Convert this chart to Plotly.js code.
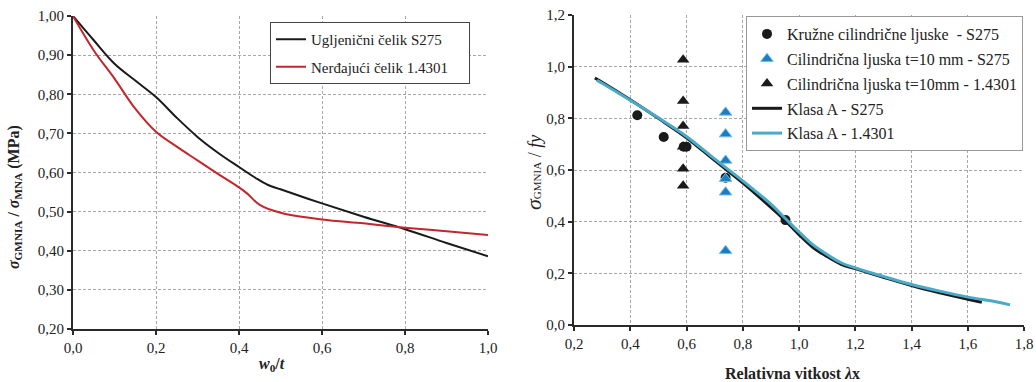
<!DOCTYPE html>
<html><head><meta charset="utf-8">
<script src="https://cdn.plot.ly/plotly-3.0.1.min.js"></script>
<style>html,body{margin:0;padding:0;background:#fff;}#chart{width:1036px;height:382px;}</style>
</head><body><div id="chart"></div>
<script>
// Left chart: sigma_GMNIA / sigma_MNA vs w0/t
const w0t = [0.0, 0.05, 0.1, 0.15, 0.2, 0.25, 0.3, 0.35, 0.4, 0.44, 0.47, 0.5, 0.6, 0.7, 0.8, 0.9, 1.0];
const carbonS275 = [1.0, 0.938, 0.878, 0.835, 0.793, 0.74, 0.691, 0.65, 0.614, 0.586, 0.568, 0.557, 0.521, 0.487, 0.455, 0.42, 0.386];
const w0tRed = [0.0, 0.05, 0.1, 0.15, 0.2, 0.25, 0.3, 0.35, 0.4, 0.42, 0.45, 0.5, 0.6, 0.7, 0.8, 0.9, 1.0];
const stainless14301 = [1.0, 0.912, 0.84, 0.763, 0.704, 0.666, 0.631, 0.596, 0.562, 0.546, 0.517, 0.497, 0.48, 0.47, 0.459, 0.45, 0.44];

// Right chart: sigma_GMNIA / fy vs relative slenderness
const circX = [0.425, 0.519, 0.59, 0.6, 0.739, 0.952];
const circY = [0.812, 0.728, 0.69, 0.69, 0.57, 0.406];
const triBlueX = [0.739, 0.739, 0.739, 0.739, 0.739, 0.739];
const triBlueY = [0.823, 0.739, 0.637, 0.566, 0.514, 0.287];
const triBlackX = [0.588, 0.588, 0.588, 0.588, 0.588, 0.588];
const triBlackY = [1.027, 0.867, 0.770, 0.69, 0.605, 0.539];
const klasaS275X = [0.274, 0.3, 0.4, 0.5, 0.6, 0.7, 0.8, 0.9, 0.95, 1.0, 1.05, 1.1, 1.15, 1.2, 1.3, 1.4, 1.5, 1.6, 1.65];
const klasaS275Y = [0.956, 0.94, 0.872, 0.80, 0.725, 0.637, 0.55, 0.455, 0.405, 0.35, 0.30, 0.265, 0.235, 0.218, 0.185, 0.153, 0.125, 0.10, 0.088];
const klasa14301X = [0.282, 0.3, 0.4, 0.5, 0.6, 0.7, 0.8, 0.9, 0.95, 1.0, 1.05, 1.1, 1.15, 1.2, 1.3, 1.4, 1.5, 1.6, 1.7, 1.75];
const klasa14301Y = [0.947, 0.936, 0.87, 0.802, 0.73, 0.643, 0.558, 0.468, 0.414, 0.36, 0.31, 0.273, 0.241, 0.221, 0.188, 0.157, 0.131, 0.108, 0.090, 0.078];

const leftXTicks = [0, 0.2, 0.4, 0.6, 0.8, 1.0];
const leftXText = ['0,0', '0,2', '0,4', '0,6', '0,8', '1,0'];
const leftYTicks = [0.2, 0.3, 0.4, 0.5, 0.6, 0.7, 0.8, 0.9, 1.0];
const leftYText = ['0,20', '0,30', '0,40', '0,50', '0,60', '0,70', '0,80', '0,90', '1,00'];
const rightXTicks = [0.2, 0.4, 0.6, 0.8, 1.0, 1.2, 1.4, 1.6, 1.8];
const rightXText = ['0,2', '0,4', '0,6', '0,8', '1,0', '1,2', '1,4', '1,6', '1,8'];
const rightYTicks = [0, 0.2, 0.4, 0.6, 0.8, 1.0, 1.2];
const rightYText = ['0,0', '0,2', '0,4', '0,6', '0,8', '1,0', '1,2'];

function serif(size, color) { return {family: 'Liberation Serif', size: size, color: color || '#222'}; }
const PAD = '\u00a0\u00a0\u00a0\u00a0';

const traces = [
  {x: w0t, y: carbonS275, mode: 'lines', name: 'Ugljenični čelik S275', line: {color: '#1a1a1a', width: 2, shape: 'spline'}, xaxis: 'x', yaxis: 'y', legend: 'legend', legendgroup: 'g1'},
  {x: w0tRed, y: stainless14301, mode: 'lines', name: 'Nerđajući čelik 1.4301' + PAD, line: {color: '#c1272d', width: 2, shape: 'spline'}, xaxis: 'x', yaxis: 'y', legend: 'legend', legendgroup: 'g2'},
  {x: circX, y: circY, mode: 'markers', name: 'Kružne cilindrične ljuske  - S275', marker: {symbol: 'circle', size: 10, color: '#1a1a1a'}, xaxis: 'x2', yaxis: 'y2', legend: 'legend2', legendgroup: 'g3'},
  {x: triBlueX, y: triBlueY, mode: 'markers', name: 'Cilindrična ljuska t=10 mm - S275', marker: {symbol: 'triangle-up', size: 11, color: '#1f7cc2', line: {color: '#6cc0ea', width: 1}}, xaxis: 'x2', yaxis: 'y2', legend: 'legend2', legendgroup: 'g4'},
  {x: triBlackX, y: triBlackY, mode: 'markers', name: 'Cilindrična ljuska t=10mm - 1.4301', marker: {symbol: 'triangle-up', size: 11, color: '#1a1a1a'}, xaxis: 'x2', yaxis: 'y2', legend: 'legend2', legendgroup: 'g5'},
  {x: klasaS275X, y: klasaS275Y, mode: 'lines', name: 'Klasa A - S275', line: {color: '#1a1a1a', width: 3, shape: 'spline'}, xaxis: 'x2', yaxis: 'y2', legend: 'legend2', legendgroup: 'g6'},
  {x: klasa14301X, y: klasa14301Y, mode: 'lines', name: 'Klasa A - 1.4301', line: {color: '#4aaac8', width: 3, shape: 'spline'}, xaxis: 'x2', yaxis: 'y2', legend: 'legend2', legendgroup: 'g7'}
];

function axis(extra) {
  return Object.assign({
    showline: true, linecolor: '#2a2a2a', linewidth: 2,
    ticks: 'outside', ticklen: 4, tickwidth: 2, tickcolor: '#2a2a2a',
    showgrid: true, gridcolor: '#a8a8a8', gridwidth: 1, griddash: '3px,2px',
    zeroline: false, tickfont: serif(15), fixedrange: true
  }, extra);
}

const layout = {
  width: 1036, height: 382,
  margin: {l: 0, r: 0, t: 0, b: 0},
  paper_bgcolor: '#fff', plot_bgcolor: '#fff',
  font: serif(15),
  showlegend: true,
  xaxis: axis({domain: [73/1036, 488/1036], range: [0, 1.0], tickvals: leftXTicks, ticktext: leftXText, anchor: 'y'}),
  yaxis: axis({domain: [53/382, 366/382], range: [0.2, 1.0], tickvals: leftYTicks, ticktext: leftYText, anchor: 'x'}),
  xaxis2: axis({domain: [574/1036, 1024/1036], range: [0.2, 1.8], tickvals: rightXTicks, ticktext: rightXText, anchor: 'y2'}),
  yaxis2: axis({domain: [57/382, 367/382], range: [0, 1.2], tickvals: rightYTicks, ticktext: rightYText, anchor: 'x2'}),
  legend: {x: 270/1036, y: 1 - 22/382, xanchor: 'left', yanchor: 'top', bgcolor: '#fff', bordercolor: '#444', borderwidth: 1, font: serif(15), tracegroupgap: 5},
  legend2: {x: 746/1036, y: 1 - 16/382, xanchor: 'left', yanchor: 'top', bgcolor: '#fff', bordercolor: '#999', borderwidth: 1, font: serif(16), tracegroupgap: 1},
  annotations: [
    {text: '<b><i>σ</i><sub>GMNIA</sub> / <i>σ</i><sub>MNA</sub> (MPa)</b>', xref: 'paper', yref: 'paper', x: 15/1036, y: 1 - 197/382, xanchor: 'center', yanchor: 'middle', textangle: -90, showarrow: false, font: serif(16)},
    {text: '<b><i>w</i><sub>0</sub>/<i>t</i></b>', xref: 'paper', yref: 'paper', x: 272/1036, y: 1 - 364/382, xanchor: 'center', yanchor: 'middle', showarrow: false, font: serif(16)},
    {text: '<i>σ</i><span style="font-size:11px">GMNIA</span><span style="font-size:18px"> / <i>fy</i></span>', xref: 'paper', yref: 'paper', x: 533/1036, y: 1 - 173/382, xanchor: 'center', yanchor: 'middle', textangle: -90, showarrow: false, font: serif(22)},
    {text: '<b>Relativna vitkost <i>λ</i>x</b>', xref: 'paper', yref: 'paper', x: 792/1036, y: 1 - 373/382, xanchor: 'center', yanchor: 'middle', showarrow: false, font: serif(16)}
  ]
};

Plotly.newPlot('chart', traces, layout, {displayModeBar: false, staticPlot: true});
</script>
</body></html>
